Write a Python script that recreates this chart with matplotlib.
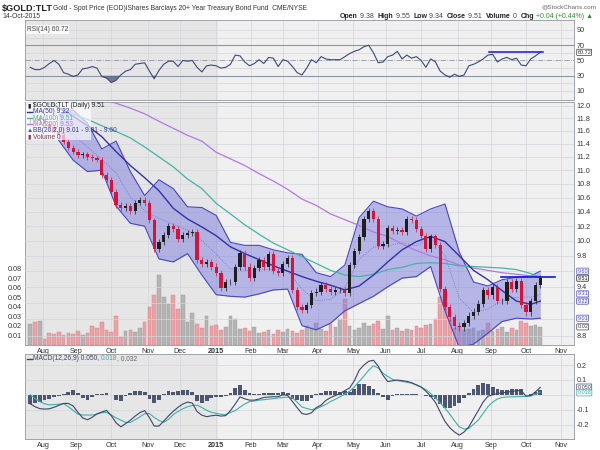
import numpy as np
import pandas as pd
import matplotlib
matplotlib.use("Agg")
import matplotlib.pyplot as plt
from matplotlib.lines import Line2D
from matplotlib.ticker import FixedLocator, NullLocator, FormatStrFormatter, FuncFormatter

plt.rcParams['font.family'] = ['Liberation Sans', 'DejaVu Sans']

# -------- data: one value every 3rd trading day, 22-Jul-2014 .. 14-Oct-2015 --------
dates = pd.bdate_range('2014-07-22', '2015-10-14')[::3]

close = [11.77, 11.75, 11.79, 11.71, 11.66, 11.60, 11.54, 11.43, 11.34, 11.28,
         11.23, 11.24, 11.20, 11.18, 11.16, 10.93, 10.86, 10.68, 10.50, 10.45,
         10.48, 10.41, 10.53, 10.57, 10.52, 10.28, 9.89, 9.98, 10.08, 10.20,
         10.16, 10.02, 10.08, 10.11, 10.12, 9.74, 9.69, 9.72, 9.66, 9.58,
         9.39, 9.46, 9.46, 9.65, 9.84, 9.66, 9.51, 9.64, 9.74, 9.66,
         9.83, 9.60, 9.58, 9.69, 9.77, 9.36, 9.15, 9.11, 9.17, 9.32,
         9.34, 9.42, 9.37, 9.33, 9.36, 9.36, 9.32, 9.68, 9.86, 10.05,
         10.30, 10.41, 10.30, 9.93, 9.96, 10.18, 10.13, 10.15, 10.12, 10.30,
         10.29, 10.16, 10.07, 9.89, 10.06, 9.94, 9.37, 9.15, 9.02, 8.92,
         8.90, 8.95, 9.04, 9.09, 9.19, 9.36, 9.29, 9.40, 9.22, 9.22,
         9.46, 9.37, 9.47, 9.17, 9.08, 9.22, 9.42, 9.51]

volume = [0.022, 0.024, 0.025, 0.006, 0.013, 0.012, 0.014, 0.011, 0.013, 0.012,
          0.015, 0.011, 0.013, 0.020, 0.018, 0.024, 0.016, 0.014, 0.030, 0.008,
          0.015, 0.016, 0.014, 0.018, 0.024, 0.040, 0.052, 0.073, 0.050, 0.043,
          0.052, 0.038, 0.052, 0.024, 0.034, 0.022, 0.018, 0.030, 0.020, 0.021,
          0.016, 0.019, 0.030, 0.027, 0.017, 0.018, 0.015, 0.019, 0.013, 0.014,
          0.016, 0.012, 0.016, 0.014, 0.017, 0.015, 0.013, 0.016, 0.020, 0.018,
          0.023, 0.017, 0.015, 0.022, 0.019, 0.027, 0.048, 0.020, 0.016, 0.018,
          0.023, 0.020, 0.022, 0.025, 0.017, 0.030, 0.016, 0.018, 0.015, 0.017,
          0.016, 0.020, 0.018, 0.021, 0.022, 0.027, 0.050, 0.045, 0.027, 0.018,
          0.020, 0.016, 0.017, 0.018, 0.015, 0.016, 0.023, 0.015, 0.017, 0.019,
          0.014, 0.018, 0.016, 0.025, 0.023, 0.020, 0.021, 0.019]

rsi = [41, 38, 38, 41, 46, 50, 45, 34, 32, 29,
       31, 39, 40, 42, 40, 29, 27, 21, 24, 31,
       36, 38, 45, 46, 47, 36, 26, 37, 45, 49,
       49, 42, 50, 49, 50, 41, 35, 43, 44, 43,
       40, 41, 45, 57, 56, 48, 43, 46, 51, 46,
       54, 53, 42, 51, 49, 42, 34, 31, 40, 51,
       47, 55, 52, 51, 51, 51, 55, 59, 62, 64,
       68, 70, 60, 47, 48, 55, 57, 62, 52, 57,
       53, 55, 50, 41, 52, 48, 36, 31, 28, 32,
       29, 31, 43, 45, 48, 52, 57, 58, 48, 52,
       54, 51, 53, 44, 43, 52, 56, 60.72]

macd = [-0.061, -0.080, -0.093, -0.096, -0.094, -0.084, -0.071, -0.058, -0.058, -0.075,
        -0.118, -0.155, -0.168, -0.151, -0.128, -0.116, -0.105, -0.140, -0.188, -0.215,
        -0.194, -0.171, -0.143, -0.120, -0.106, -0.153, -0.210, -0.210, -0.177, -0.142,
        -0.111, -0.084, -0.062, -0.049, -0.056, -0.113, -0.137, -0.147, -0.141, -0.137,
        -0.143, -0.140, -0.106, -0.062, -0.014, -0.027, -0.036, -0.036, -0.028, -0.018,
        -0.015, -0.013, -0.013, 0.000, -0.004, -0.045, -0.087, -0.126, -0.132, -0.121,
        -0.086, -0.070, -0.038, -0.019, -0.005, 0.009, 0.028, 0.046, 0.095, 0.165,
        0.200, 0.225, 0.232, 0.192, 0.131, 0.089, 0.094, 0.099, 0.095, 0.090,
        0.081, 0.067, 0.052, 0.024, -0.010, -0.051, -0.116, -0.179, -0.221, -0.250,
        -0.271, -0.250, -0.216, -0.160, -0.105, -0.049, -0.010, 0.000, 0.009, 0.013,
        0.018, 0.022, 0.027, 0.028, -0.009, -0.005, 0.020, 0.050]

signal = [0.000, -0.025, -0.046, -0.060, -0.068, -0.066, -0.063, -0.060, -0.080, -0.105,
          -0.130, -0.136, -0.136, -0.136, -0.130, -0.120, -0.118, -0.136, -0.155, -0.170,
          -0.185, -0.186, -0.168, -0.148, -0.127, -0.125, -0.152, -0.172, -0.185, -0.165,
          -0.133, -0.112, -0.094, -0.080, -0.072, -0.070, -0.085, -0.104, -0.118, -0.124,
          -0.131, -0.133, -0.119, -0.106, -0.083, -0.062, -0.046, -0.042, -0.036, -0.033,
          -0.029, -0.026, -0.022, -0.019, -0.015, -0.020, -0.050, -0.082, -0.092, -0.100,
          -0.094, -0.080, -0.065, -0.045, -0.030, -0.013, 0.005, 0.024, 0.053, 0.090,
          0.126, 0.165, 0.195, 0.180, 0.145, 0.123, 0.104, 0.095, 0.090, 0.084,
          0.078, 0.065, 0.052, 0.035, 0.008, -0.020, -0.055, -0.090, -0.130, -0.175,
          -0.215, -0.230, -0.226, -0.198, -0.170, -0.125, -0.080, -0.050, -0.028, -0.018,
          -0.015, -0.014, -0.013, -0.012, -0.010, -0.008, 0.004, 0.018]

# moving averages and Bollinger bands, read every 9th trading day
ma_dates = list(dates[::3]) + [dates[-1]]
ma50 = [12.30, 12.12, 11.97, 11.83, 11.68, 11.51, 11.28, 11.07, 10.89, 10.70,
        10.45, 10.30, 10.19, 10.07, 9.92, 9.83, 9.75, 9.67, 9.60, 9.53,
        9.47, 9.42, 9.36, 9.41, 9.55, 9.72, 9.88, 9.99, 10.06, 9.99,
        9.80, 9.61, 9.49, 9.35, 9.22, 9.18, 9.22]
ma100 = [12.15, 12.06, 11.96, 11.87, 11.78, 11.68, 11.59, 11.49, 11.35, 11.20,
         11.05, 10.87, 10.73, 10.52, 10.37, 10.22, 10.09, 9.97, 9.88, 9.79,
         9.70, 9.61, 9.55, 9.53, 9.56, 9.62, 9.65, 9.70, 9.71, 9.70,
         9.67, 9.66, 9.65, 9.64, 9.62, 9.57, 9.51]
ma200 = [12.55, 12.45, 12.36, 12.27, 12.18, 12.10, 12.04, 11.96, 11.87, 11.75,
         11.64, 11.53, 11.44, 11.27, 11.17, 11.07, 10.95, 10.84, 10.72, 10.58,
         10.49, 10.37, 10.29, 10.21, 10.12, 10.06, 9.96, 9.87, 9.80, 9.75,
         9.68, 9.64, 9.61, 9.58, 9.56, 9.54, 9.53]
bb_dates = ma_dates[2:]
bb_upper = [11.85, 11.93, 11.72, 11.32, 11.44, 10.98, 10.63, 10.86, 10.73, 10.47,
            10.46, 10.35, 9.98, 9.94, 9.94, 9.88, 9.84, 9.82, 9.58, 9.53,
            9.68, 10.32, 10.55, 10.47, 10.44, 10.34, 10.44, 10.51, 9.85, 9.46,
            9.41, 9.49, 9.52, 9.54, 9.60]
bb_lower = [11.45, 11.15, 10.98, 11.00, 10.48, 10.24, 10.20, 9.76, 9.72, 9.83,
            9.55, 9.30, 9.28, 9.27, 9.31, 9.36, 9.37, 8.92, 8.87, 8.95,
            9.10, 9.19, 9.28, 9.40, 9.51, 9.53, 9.66, 9.10, 8.66, 8.70,
            8.83, 8.97, 9.01, 9.00, 9.01]

price_res_dates = ['2015-09-09', '2015-10-27']
price_res_level = 9.52
rsi_res_dates = ['2015-08-31', '2015-10-16']
rsi_res_level = 60.5

month_ticks = pd.date_range('2014-08-01', '2015-11-30', freq='BMS')
month_labels = ['2015' if d.month == 1 else d.strftime('%b') for d in month_ticks]

# -------- positions on a trading-day axis --------
all_days = pd.bdate_range('2014-07-01', '2015-12-31')
def xpos(d):
    return all_days.get_indexer(pd.DatetimeIndex(pd.to_datetime(d)))

x = xpos(dates)
x_ma = xpos(ma_dates)
x_bb = xpos(bb_dates)
x_months = xpos(month_ticks)
XLIM = (xpos(['2014-07-17'])[0] - 0.3, xpos(['2015-11-12'])[0] + 0.2)
x2015 = xpos(['2015-01-02'])[0]

close_a = np.array(close)
opens = np.array([close[0]] + close[:-1])
up = close_a >= opens
hist = np.array(macd) - np.array(signal)

# -------- styling --------
BG14 = '#e6e6e6'
BG15 = '#f0f0f0'
GRID = '#d4d6da'
SPINE = '#a0a4aa'
TXT = '#333333'
FS = 5.2

W, H = 600, 450
def rect(top, bottom):
    return [25 / W, 1 - bottom / H, 549 / W, (bottom - top) / H]
def fx(px):
    return px / W
def fy(py):
    return 1 - py / H

fig = plt.figure(figsize=(6, 4.5), dpi=100)
fig.patch.set_facecolor('white')

def base_panel(ax):
    ax.set_facecolor(BG15)
    ax.axvspan(XLIM[0], x2015, color=BG14, zorder=0, lw=0)
    ax.set_xlim(*XLIM)
    ax.set_xticks(x_months)
    for xm in x_months:
        ax.axvline(xm, color=GRID, lw=0.5, zorder=0.5)
    for s in ax.spines.values():
        s.set_color(SPINE)
        s.set_linewidth(0.7)
    ax.tick_params(length=0, labelsize=FS, colors=TXT, pad=2)

def month_labels_on(ax):
    ax.set_xticklabels(month_labels)
    for lbl in ax.get_xticklabels():
        if lbl.get_text() == '2015':
            lbl.set_fontweight('bold')

def value_box(ax, y, text, color, xcoord=1.006):
    ax.annotate(text, xy=(xcoord, y), xycoords=('axes fraction', 'data'),
                fontsize=4.0, color=color, ha='left', va='center',
                annotation_clip=False,
                bbox=dict(boxstyle='round,pad=0.1', fc='white', ec=color, lw=0.5))

# ========== RSI panel ==========
ax_rsi = fig.add_axes(rect(20, 100))
base_panel(ax_rsi)
ax_rsi.set_xticklabels([])
ax_rsi.set_ylim(-1.8, 103)
for lv in [10, 20, 40, 60, 80, 90]:
    ax_rsi.axhline(lv, color=GRID, lw=0.5, zorder=0.5)
ax_rsi.axhline(70, color='#8e95a2', lw=0.8, zorder=1)
ax_rsi.axhline(30, color='#8e95a2', lw=0.8, zorder=1)
ax_rsi.axhline(50, color='#8e95a2', lw=0.6, ls='-.', zorder=1)
rsi_a = np.array(rsi, dtype=float)
ax_rsi.fill_between(x, rsi_a, 30, where=rsi_a < 30, interpolate=True,
                    color='#5b6688', alpha=0.85, lw=0, zorder=2)
ax_rsi.fill_between(x, rsi_a, 70, where=rsi_a > 70, interpolate=True,
                    color='#5b6688', alpha=0.85, lw=0, zorder=2)
ax_rsi.plot(x, rsi_a, color='#3d4a74', lw=0.8, zorder=3)
ax_rsi.plot(xpos(rsi_res_dates), [rsi_res_level] * 2, color='#1515e0', lw=1.1, zorder=4)
ax_rsi.yaxis.tick_right()
ax_rsi.set_yticks([10, 30, 50, 70, 90])
value_box(ax_rsi, rsi[-1], '60.72', '#333333')
ax_rsi.text(0.004, 0.93, 'RSI(14) 60.72', transform=ax_rsi.transAxes, fontsize=4.8,
            color='#444444', va='top', ha='left',
            bbox=dict(boxstyle='square,pad=0.15', fc='white', ec='none', alpha=0.8))

# ========== main panel: volume underneath, price on top ==========
ax_vol = fig.add_axes(rect(102, 345))
base_panel(ax_vol)
month_labels_on(ax_vol)
ax_vol.tick_params(axis='x', pad=2.5)
ax_vol.set_ylim(0, 0.255)
ax_vol.set_yticks([0.01, 0.02, 0.03, 0.04, 0.05, 0.06, 0.07, 0.08])
ax_vol.yaxis.set_major_formatter(FormatStrFormatter('%.2f'))
vcol = ['#b4b4b4' if u else '#eaa2a6' for u in up]
vedge = ['#9a9a9a' if u else '#d88088' for u in up]
ax_vol.bar(x, volume, width=2.3, color=vcol, edgecolor=vedge, lw=0.3, zorder=2)
value_box(ax_vol, volume[-1], '0.02', '#444444')

ax = fig.add_axes(rect(102, 345), sharex=ax_vol)
ax.set_facecolor('none')
for s in ax.spines.values():
    s.set_visible(False)
ax.set_yscale('log')
ax.set_ylim(8.69, 12.06)
price_ticks = [round(8.8 + 0.2 * i, 1) for i in range(17)]
hidden_ticks = {9.0, 9.2, 9.6}   # covered by the value boxes
ax.yaxis.set_major_locator(FixedLocator(price_ticks))
ax.yaxis.set_minor_locator(NullLocator())
ax.yaxis.set_major_formatter(FuncFormatter(
    lambda v, pos: '' if round(v, 1) in hidden_ticks else f'{v:.1f}'))
ax.yaxis.tick_right()
ax.tick_params(length=0, labelsize=FS, colors=TXT, pad=2, labelbottom=False)
for p in price_ticks:
    ax.axhline(p, color=GRID, lw=0.5, zorder=0.5)

# Bollinger band
ax.fill_between(x_bb, bb_lower, bb_upper, color='#7878dc', alpha=0.48, lw=0, zorder=2)
ax.plot(x_bb, bb_upper, color='#4646c6', lw=0.8, zorder=3)
ax.plot(x_bb, bb_lower, color='#4646c6', lw=0.8, zorder=3)
bb_mid = (np.array(bb_upper) + np.array(bb_lower)) / 2
ax.plot(x_bb, bb_mid, color='#6a6ad0', lw=0.6, ls=':', zorder=3)

# moving averages
ax.plot(x_ma, ma200, color='#b278e2', lw=0.9, zorder=3)
ax.plot(x_ma, ma100, color='#44b4a6', lw=0.9, zorder=3)
ax.plot(x_ma, ma50, color='#3232a8', lw=1.0, zorder=3)

# candles
ccol = ['#1e1e1e' if u else '#d4143c' for u in up]
ax.bar(x, close_a - opens, bottom=opens, width=2.0, color=ccol, lw=0, zorder=4)
ax.vlines(x, np.minimum(opens, close_a) - 0.04, np.maximum(opens, close_a) + 0.04,
          colors=ccol, lw=0.5, zorder=4)

# resistance line
ax.plot(xpos(price_res_dates), [price_res_level] * 2, color='#1515e0', lw=1.2, zorder=5)

# value boxes on the right
value_box(ax, 9.60, '9.60', '#4646c6')
value_box(ax, 9.51, '9.51', '#111111')
value_box(ax, 9.31, '9.31', '#4646c6')
value_box(ax, 9.22, '9.22', '#3232a8')
value_box(ax, 9.01, '9.01', '#4646c6')

# legend block
legbg = plt.Rectangle((fx(25.5), fy(140)), fx(66), 38 / H, transform=fig.transFigure,
                      fc='white', ec='none', alpha=0.65, zorder=1)
fig.patches.append(legbg)
leg_items = [
    ('\u25ae', r'\$GOLD:TLT (Daily) 9.51', '#222222', '#222222'),
    ('line', 'MA(50) 9.22', '#3232a8', '#3232a8'),
    ('line', 'MA(100) 9.51', '#44b4a6', '#44b4a6'),
    ('line', 'MA(200) 9.53', '#b278e2', '#b278e2'),
    ('\u25b2', 'BB(20,2.0) 9.01 - 9.31 - 9.60', '#4646c6', '#3a3a9a'),
    ('\u25ae', 'Volume 0', '#8a3a5a', '#7a3a5a'),
]
for i, (icon, label, icol, tcol) in enumerate(leg_items):
    yy = 105.5 + i * 6.3
    if icon == 'line':
        fig.add_artist(Line2D([fx(27), fx(32)], [fy(yy), fy(yy)], color=icol, lw=1.0,
                              zorder=3))
    else:
        fig.text(fx(27), fy(yy), icon, fontsize=4.5, color=icol, va='center', ha='left')
    fig.text(fx(33), fy(yy), label, fontsize=4.8, color=tcol, va='center', ha='left')

# ========== MACD panel ==========
ax_m = fig.add_axes(rect(354, 439))
base_panel(ax_m)
month_labels_on(ax_m)
ax_m.tick_params(axis='x', pad=2.5)
ax_m.set_ylim(-0.297, 0.274)
for lv in [-0.2, -0.1, 0.0, 0.1, 0.2]:
    ax_m.axhline(lv, color=GRID, lw=0.5, zorder=0.5)
ax_m.bar(x, hist, width=2.4, color='#4d5670', lw=0, zorder=2)
ax_m.plot(x, signal, color='#3eb0a6', lw=0.8, zorder=3)
ax_m.plot(x, macd, color='#3c4668', lw=0.8, zorder=3)
ax_m.yaxis.tick_right()
ax_m.set_yticks([-0.2, -0.1, 0.1, 0.2])
ax_m.yaxis.set_major_formatter(FormatStrFormatter('%.1f'))
value_box(ax_m, 0.052, '0.050', '#3c4668')
value_box(ax_m, 0.013, '0.018', '#3eb0a6')
fig.add_artist(Line2D([fx(27), fx(32)], [fy(359), fy(359)], color='#3c4668', lw=1.0))
t1 = fig.text(fx(33), fy(359), 'MACD(12,26,9) 0.050, ', fontsize=4.8, color='#3c4668',
              va='center', ha='left')
t2 = ax_m.annotate('0.018', xy=(1, 0), xycoords=t1, fontsize=4.8, color='#3eb0a6',
                   va='bottom', ha='left', annotation_clip=False)
ax_m.annotate(', 0.032', xy=(1, 0), xycoords=t2, fontsize=4.8, color='#666666',
              va='bottom', ha='left', annotation_clip=False)

# ========== header ==========
fig.text(fx(2), fy(8), r'\$GOLD:TLT', fontsize=6.6, fontweight='bold', color='#222222',
         va='center', ha='left')
fig.text(fx(53), fy(8.5), 'Gold - Spot Price (EOD)iShares Barclays 20+ Year Treasury Bond Fund  CME/NYSE',
         fontsize=4.9, color='#333333', va='center', ha='left')
fig.text(fx(2), fy(16), '14-Oct-2015', fontsize=4.9, color='#333333', va='center', ha='left')
fig.text(fx(597), fy(7), '@StockCharts.com', fontsize=4.6, color='#666666',
         va='center', ha='right')

pieces = [('Open', 'bold', '#222222'), (' 9.38  ', 'normal', '#444444'),
          ('High', 'bold', '#222222'), (' 9.55  ', 'normal', '#444444'),
          ('Low', 'bold', '#222222'), (' 9.34  ', 'normal', '#444444'),
          ('Close', 'bold', '#222222'), (' 9.51  ', 'normal', '#444444'),
          ('Volume', 'bold', '#222222'), (' 0  ', 'normal', '#444444'),
          ('Chg', 'bold', '#222222'), (' +0.04 (+0.44%) \u25b2', 'normal', '#2e8b2e')]
prev = fig.text(fx(340), fy(16), pieces[0][0], fontsize=5.0, fontweight=pieces[0][1],
                color=pieces[0][2], va='center', ha='left')
for txt, wt, col in pieces[1:]:
    prev = ax_rsi.annotate(txt, xy=(1, 0), xycoords=prev, fontsize=5.0, fontweight=wt,
                           color=col, va='bottom', ha='left', annotation_clip=False)

fig.savefig('out.png', dpi=100, facecolor='white')
